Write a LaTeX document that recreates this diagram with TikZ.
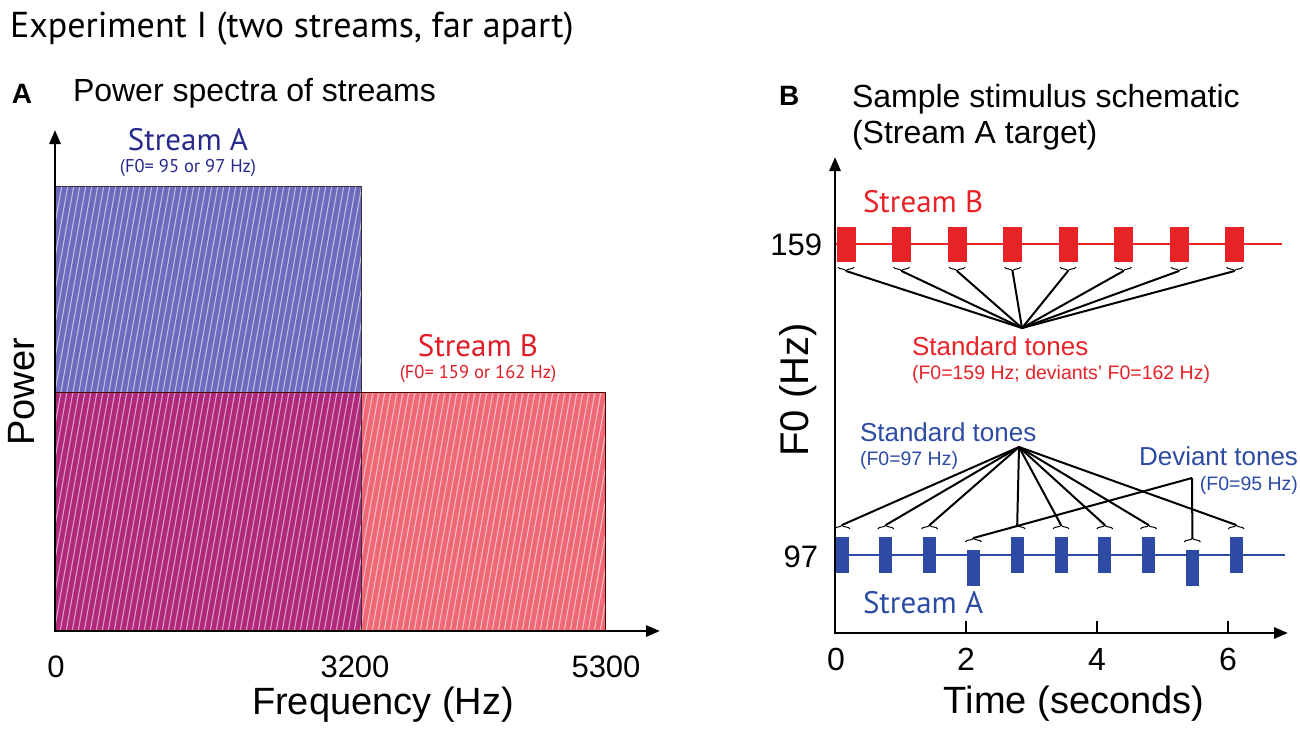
\documentclass[tikz,border=0pt]{standalone}
\usepackage{fontspec}
\setmainfont{Liberation Sans}
\newfontfamily\myr{PT Sans}
\usetikzlibrary{arrows.meta,decorations.pathreplacing}
\definecolor{pblue}{RGB}{108,108,188}
\definecolor{pmag}{RGB}{176,40,122}
\definecolor{pred}{RGB}{238,104,118}
\definecolor{tnavy}{RGB}{38,42,140}
\definecolor{tred}{RGB}{225,30,40}
\definecolor{sred}{RGB}{232,35,40}
\definecolor{sblue}{RGB}{45,75,165}
\newcommand{\fs}[1]{\fontsize{#1}{#1}\selectfont}
\begin{document}
\begin{tikzpicture}[x=1pt,y=-1pt,
  txt/.style={inner sep=0pt, outer sep=0pt},
  axis/.style={line width=2.8pt, -{Triangle[length=14pt,width=11pt]}},
  redtone/.style={fill=sred, draw=none, minimum width=19pt, minimum height=35pt, inner sep=0pt},
  bluetone/.style={fill=sblue, draw=none, minimum width=13pt, minimum height=36pt, inner sep=0pt},
  brc/.style={decorate, decoration={brace, amplitude=4pt}, line width=1pt},
  conn/.style={line width=2pt, black},
  hatch/.style={white, opacity=0.55, line width=1.1pt}]
\useasboundingbox (0,0) rectangle (1300,733);
\fill[white] (0,0) rectangle (1300,733);

% ---------- titles ----------
\node[txt, anchor=base west] (title) at (10,38) {\myr\fs{36}Experiment I (two streams, far apart)};
\node[txt, anchor=base west] (labA) at (12,103) {\bfseries\fs{28}A};
\node[txt, anchor=base west] (titA) at (73,102) {\fs{32}Power spectra of streams};
\node[txt, anchor=base west] (labB) at (779,106) {\bfseries\fs{28}B};
\node[txt, anchor=base west] (titB1) at (852,107) {\fs{32}Sample stimulus schematic};
\node[txt, anchor=base west] (titB2) at (852,143) {\fs{32}(Stream A target)};

% ---------- panel A ----------
\fill[pblue] (55,186) rectangle (361,392);
\fill[pmag] (55,392) rectangle (361,631);
\fill[pred] (361,392) rectangle (605,631);
\begin{scope}
  \clip (55,186) rectangle (361,631) (361,392) rectangle (605,631);
  \foreach \i in {0,...,112} {
    \draw[hatch] ({-30+6*\i},632) -- ({50+6*\i},185);
  }
\end{scope}
\draw[line width=0.8pt, black!80] (55,186) -- (361,186) -- (361,631);
\draw[line width=0.8pt, black!70!red] (55,392) -- (605,392) -- (605,631);

\node[txt, anchor=base, text=tnavy] (sA) at (188,150) {\myr\fs{31}Stream A};
\node[txt, anchor=base, text=tnavy] (sAf) at (188,172) {\myr\fs{18.5}(F0= 95 or 97 Hz)};
\node[txt, anchor=base, text=tred] (sB) at (478,356) {\myr\fs{31}Stream B};
\node[txt, anchor=base, text=tred] (sBf) at (478,378) {\myr\fs{18.5}(F0= 159 or 162 Hz)};

\coordinate (oA) at (55,631);
\coordinate (yA) at (55,130);
\coordinate (xA) at (660,631);
\draw[axis] ([yshift=-1.4pt]oA) -- (yA);
\draw[axis] ([xshift=-1.4pt]oA) -- (xA);

\node[txt, rotate=90] (pow) at (22,392) {\fs{38}Power};
\node[txt] (t0) at (56,667) {\fs{31}0};
\node[txt] (t3200) at (355,667) {\fs{31}3200};
\node[txt] (t5300) at (606,667) {\fs{31}5300};
\node[txt] (freq) at (383,705) {\fs{38}Frequency (Hz)};

% ---------- panel B ----------
\coordinate (oB) at (835,633);
\coordinate (yB) at (835,157);
\coordinate (xB) at (1288,633);

% red stream
\coordinate (rl0) at (835,244);
\coordinate (rl1) at (1282,244);
\draw[sred, line width=2pt] (rl0) -- (rl1);
\coordinate (cB) at (1022,328);
\foreach \i in {0,...,7} {
  \pgfmathsetmacro\xx{846+55.5*\i}
  \node[redtone] (rb\i) at (\xx,244) {};
  \draw[brc] (\xx+8,267) -- (\xx-8,267);
  \coordinate (rbt\i) at (\xx,271);
  \draw[conn] (rbt\i) -- (cB);
}

% blue stream
\coordinate (bl0) at (835,555);
\coordinate (bl1) at (1285,555);
\draw[sblue, line width=2pt] (bl0) -- (bl1);
\coordinate (cA) at (1019,447);
\coordinate (cD) at (1192,478);
\foreach \i in {0,1,2,4,5,6,7,9} {
  \pgfmathsetmacro\xx{842+43.8*\i}
  \node[bluetone] (bt\i) at (\xx,555) {};
  \draw[brc] (\xx-8,529) -- (\xx+8,529);
  \coordinate (btt\i) at (\xx,525);
  \draw[conn] (cA) -- (btt\i);
}
\foreach \i in {3,8} {
  \pgfmathsetmacro\xx{842+43.8*\i}
  \node[bluetone] (bt\i) at (\xx,568) {};
  \draw[brc] (\xx-8,542) -- (\xx+8,542);
  \coordinate (btt\i) at (\xx,538);
  \draw[conn] (cD) -- (btt\i);
}

\draw[axis] ([yshift=-1.4pt]oB) -- (yB);
\draw[axis] ([xshift=-1.4pt]oB) -- (xB);
\foreach \x/\n in {966/2,1097/4,1228/6} {
  \coordinate (tk\n) at (\x,633);
  \draw[line width=2pt] (tk\n) -- ++(0,-12);
}

\node[txt, anchor=base west, text=sred] (sBB) at (863,212) {\myr\fs{31}Stream B};
\node[txt, anchor=base west, text=sblue] (sAA) at (863,613) {\myr\fs{31}Stream A};
\node[txt, anchor=east] (y159) at (822,245) {\fs{31}159};
\node[txt, anchor=east] (y97) at (818,557) {\fs{31}97};
\node[txt, rotate=90] (f0) at (798,390) {\fs{40}F0 (Hz)};

\node[txt, anchor=base west, text=sred] (stdR) at (912,355) {\fs{26}Standard tones};
\node[txt, anchor=base west, text=sred] (stdRf) at (912,379) {\fs{19.5}(F0=159 Hz; deviants' F0=162 Hz)};
\node[txt, anchor=base west, text=sblue] (stdA) at (860,441) {\fs{26}Standard tones};
\node[txt, anchor=base west, text=sblue] (stdAf) at (860,465) {\fs{19.5}(F0=97 Hz)};
\node[txt, anchor=base east, text=sblue] (dev) at (1298,465) {\fs{26}Deviant tones};
\node[txt, anchor=base east, text=sblue] (devf) at (1298,490) {\fs{19.5}(F0=95 Hz)};

\node[txt] (n0) at (836,659) {\fs{32}0};
\node[txt] (n2) at (966,659) {\fs{32}2};
\node[txt] (n4) at (1097,659) {\fs{32}4};
\node[txt] (n6) at (1228,659) {\fs{32}6};
\node[txt] (time) at (1074,704) {\fs{38}Time (seconds)};
\end{tikzpicture}
\end{document}
